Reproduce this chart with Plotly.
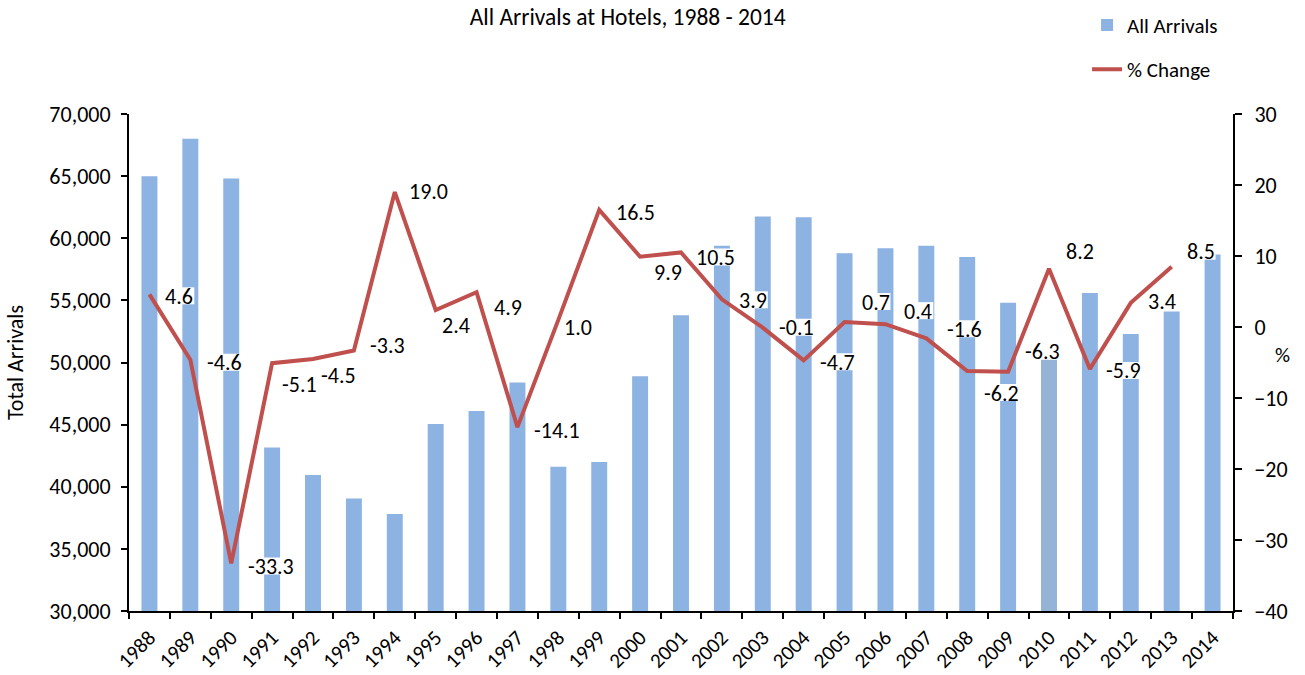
import plotly.graph_objects as go

# ---- data ----
years = [str(y) for y in range(1988, 2015)]
arrivals = [65000, 68000, 64800, 43150, 40950, 39050, 37800, 45050, 46100,
            48400, 41600, 42000, 48900, 53800, 59400, 61750, 61700, 58800,
            59200, 59400, 58500, 54800, 51400, 55600, 52300, 54100, 58700]
pct_years = years[:-1]
pct_change = [4.6, -4.6, -33.3, -5.1, -4.5, -3.3, 19.0, 2.4, 4.9, -14.1, 1.0,
              16.5, 9.9, 10.5, 3.9, -0.1, -4.7, 0.7, 0.4, -1.6, -6.2, -6.3,
              8.2, -5.9, 3.4, 8.5]
highlight_year = "2010"

# ---- styling ----
FONT = "Carlito, Lato, 'Open Sans', sans-serif"
BAR = "#8DB3E2"
BAR_HI = "#95B3D7"
LINE = "#C0504D"
LABEL_SIZE = 22
# label nudges in pixels (right, down) relative to each line point
label_offsets = [(30, 1), (34, 2), (40, 2), (27, 20), (25, 16), (34, -6),
                 (34, -2), (20, 15), (31, 14), (40, 2), (20, 7), (36, 2),
                 (28, 15), (34, 4), (31, 0), (34, -1), (34, 1), (31, -21),
                 (33, -14), (38, -10), (34, 21), (34, -21), (31, -18),
                 (34, 1), (31, -2), (29, -16)]

bar_colors = [BAR_HI if y == highlight_year else BAR for y in years]

fig = go.Figure()
fig.add_trace(go.Bar(
    x=years, y=arrivals, name="All Arrivals", marker_color=bar_colors,
    marker_line_width=0, width=0.39, legendgroup="a", yaxis="y"))
fig.add_trace(go.Scatter(
    x=pct_years, y=pct_change, name="% Change", mode="lines",
    line=dict(color=LINE, width=4), legendgroup="b", yaxis="y2"))

annotations = []
shapes = []
for x, v, (dx, dy) in zip(pct_years, pct_change, label_offsets):
    txt = f"{v:.1f}"
    idx = years.index(x)
    ys = -dy - 1
    # tight white box behind the label (like Excel's filled data labels)
    w = (sum(c.isdigit() for c in txt) * 10.6 + txt.count(".") * 4.6
         + txt.count("-") * 6.8 + 4)
    shapes.append(dict(
        type="rect", xref="x", yref="y2", xsizemode="pixel",
        ysizemode="pixel", xanchor=idx, yanchor=v,
        x0=dx - w / 2, x1=dx + w / 2, y0=ys - 8, y1=ys + 9,
        fillcolor="white", line=dict(width=0), layer="above"))
    annotations.append(dict(
        x=idx, y=v, xref="x", yref="y2", text=txt,
        showarrow=False, xanchor="center", yanchor="middle",
        xshift=dx, yshift=ys,
        font=dict(family=FONT, size=LABEL_SIZE, color="black")))
annotations.append(dict(
    x=1.045, y=0.515, xref="paper", yref="paper", text="%", showarrow=False,
    xanchor="center", yanchor="middle",
    font=dict(family=FONT, size=21, color="black")))

fig.update_layout(
    width=1305, height=675,
    margin=dict(l=129, r=72, t=114, b=64, autoexpand=False),
    paper_bgcolor="white", plot_bgcolor="white",
    font=dict(family=FONT, size=22, color="black"),
    title=dict(text="All Arrivals at Hotels, 1988 - 2014", x=0.481,
               xref="container", xanchor="center", y=0.975,
               yref="container", yanchor="middle",
               font=dict(family=FONT, size=23.5, color="black")),
    showlegend=True,
    legend=dict(x=0.833, y=0.993, xref="container", yref="container",
                xanchor="left", yanchor="top",
                traceorder="grouped", tracegroupgap=14,
                font=dict(family=FONT, size=21, color="black"),
                bgcolor="rgba(0,0,0,0)"),
    xaxis=dict(type="category", range=[-0.5, len(years) - 0.5],
               tickson="boundaries", ticks="outside", automargin=False,
               ticklen=6, tickwidth=1.5, tickcolor="black", tickangle=-45,
               ticklabelstandoff=4,
               showline=True, linecolor="black", linewidth=2,
               showgrid=False, zeroline=False,
               tickfont=dict(family=FONT, size=21)),
    yaxis=dict(range=[30000, 70000], dtick=5000, tickformat=",",
               ticks="outside", ticklen=6, tickwidth=1.5, tickcolor="black",
               showline=True, linecolor="black", linewidth=2,
               showgrid=False, zeroline=False, ticklabelstandoff=6,
               automargin=False,
               title=dict(text="Total Arrivals", standoff=20,
                          font=dict(family=FONT, size=22)),
               tickfont=dict(family=FONT, size=22)),
    yaxis2=dict(range=[-40, 30], dtick=10, overlaying="y", side="right",
                ticks="outside", ticklen=7, tickwidth=1.5, tickcolor="black",
                showline=True, linecolor="black", linewidth=2,
                showgrid=False, zeroline=False, ticklabelstandoff=8,
                automargin=False,
                tickfont=dict(family=FONT, size=22)),
    annotations=annotations,
    shapes=shapes,
)

fig.write_html(
    "out.html",
    config={"displayModeBar": False},
    post_script="document.body.style.margin='0';"
                "document.body.style.overflow='hidden';",
)
